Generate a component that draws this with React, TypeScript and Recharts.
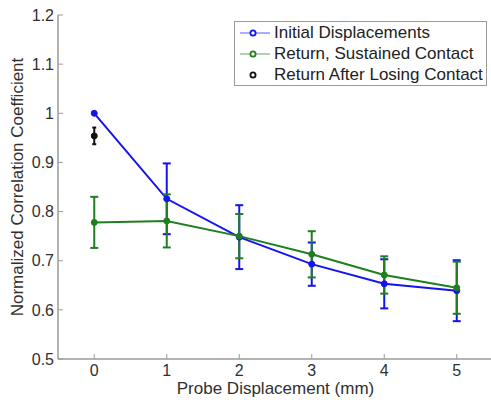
import React from "react";
import { LineChart, Line, XAxis, YAxis, ErrorBar, Legend, Label } from "recharts";

const xPositions = [0, 1, 2, 3, 4, 5];
const xTicks = [0, 1, 2, 3, 4, 5];
const yTicks = [0.5, 0.6, 0.7, 0.8, 0.9, 1.0, 1.1, 1.2];

const initialMean = [1.0, 0.826, 0.748, 0.693, 0.653, 0.639];
const initialErr = [0, 0.072, 0.065, 0.044, 0.05, 0.062];

const sustainedMean = [0.778, 0.781, 0.75, 0.713, 0.671, 0.645];
const sustainedErr = [0.052, 0.054, 0.045, 0.047, 0.038, 0.053];

const lostX = [0];
const lostMean = [0.954];
const lostErr = [0.017];

const seriesNames = ["Initial Displacements", "Return, Sustained Contact", "Return After Losing Contact"];
const BLUE = "#1414f0";
const GREEN = "#1f7f1f";
const BLACK = "#111111";
const seriesColors = [BLUE, GREEN, BLACK];
const seriesHasLine = [true, true, false];

const build = (xs: number[], ys: number[], es: number[]) =>
  xs.map((x, i) => ({ x, y: ys[i], err: es[i] }));

const initialData = build(xPositions, initialMean, initialErr);
const sustainedData = build(xPositions, sustainedMean, sustainedErr);
const lostData = build(lostX, lostMean, lostErr);

const FONT = "'Liberation Sans', Arial, sans-serif";
const AXIS = "#9a9a9a";
const TEXT = "#303030";

const fmt = (v: number) => (Math.round(v * 10) / 10).toString();

const LegendBox = () => (
  <div
    style={{
      border: `1.5px solid ${AXIS}`,
      background: "#fff",
      padding: "0 3px 0 5px",
      fontFamily: FONT,
      fontSize: 17,
      color: "#222",
    }}
  >
    {seriesNames.map((n, i) => (
      <div key={n} style={{ display: "flex", alignItems: "center", height: 21, whiteSpace: "nowrap" }}>
        <svg width={32} height={12} style={{ marginRight: 2 }}>
          {seriesHasLine[i] && (
            <line x1={0} y1={6} x2={30} y2={6} stroke={seriesColors[i]} strokeWidth={1} strokeOpacity={0.7} />
          )}
          <circle cx={13} cy={6} r={2.6} fill="#fff" stroke={seriesColors[i]} strokeWidth={1.8} />
        </svg>
        <span>{n}</span>
      </div>
    ))}
  </div>
);

export default function App() {
  return (
    <div style={{ position: "absolute", left: 0, top: 0, width: 491, height: 400, overflow: "hidden", background: "#fff" }}>
      <LineChart width={500} height={400} margin={{ top: 15, right: 7, bottom: 0, left: 0 }}>
        <XAxis
          type="number"
          dataKey="x"
          domain={[-0.5, 5.5]}
          allowDataOverflow
          ticks={xTicks}
          height={41}
          tickSize={-5}
          tickMargin={11}
          axisLine={{ stroke: AXIS, strokeWidth: 1.5 }}
          tickLine={{ stroke: AXIS }}
          tick={{ fill: TEXT, fontSize: 16, fontFamily: FONT }}
        >
          <Label
            value="Probe Displacement (mm)"
            position="insideBottom"
            offset={6}
            style={{ fill: TEXT, fontSize: 17, fontFamily: FONT }}
          />
        </XAxis>
        <XAxis
          xAxisId="top"
          orientation="top"
          type="number"
          dataKey="x"
          domain={[-0.5, 5.5]}
          allowDataOverflow
          ticks={xTicks}
          height={0}
          tickSize={-5}
          tick={false}
          axisLine={{ stroke: AXIS, strokeWidth: 1.5 }}
          tickLine={{ stroke: AXIS }}
        />
        <YAxis
          type="number"
          domain={[0.5, 1.2]}
          allowDataOverflow
          ticks={yTicks}
          width={58}
          tickSize={-5}
          tickMargin={9}
          tickFormatter={fmt}
          axisLine={{ stroke: AXIS, strokeWidth: 1.5 }}
          tickLine={{ stroke: AXIS }}
          tick={{ fill: TEXT, fontSize: 16, fontFamily: FONT }}
        >
          <Label
            value="Normalized Correlation Coefficient"
            angle={-90}
            position="insideLeft"
            offset={17}
            style={{ fill: TEXT, fontSize: 17, fontFamily: FONT, textAnchor: "middle" }}
          />
        </YAxis>
        <YAxis
          yAxisId="right"
          orientation="right"
          type="number"
          domain={[0.5, 1.2]}
          allowDataOverflow
          ticks={yTicks}
          width={0}
          tickSize={-5}
          tick={false}
          axisLine={{ stroke: AXIS, strokeWidth: 1.5 }}
          tickLine={{ stroke: AXIS }}
        />
        <Legend
          layout="horizontal"
          verticalAlign="middle"
          align="center"
          wrapperStyle={{ top: 21, left: 234, width: "auto", height: "auto" }}
          content={() => <LegendBox />}
        />
        <Line
          data={initialData}
          dataKey="y"
          name={seriesNames[0]}
          type="linear"
          stroke={BLUE}
          strokeWidth={2}
          dot={{ r: 3, fill: BLUE, stroke: BLUE, strokeWidth: 1 }}
          isAnimationActive={false}
        >
          <ErrorBar dataKey="err" direction="y" width={4} stroke={BLUE} strokeWidth={2} isAnimationActive={false} />
        </Line>
        <Line
          data={sustainedData}
          dataKey="y"
          name={seriesNames[1]}
          type="linear"
          stroke={GREEN}
          strokeWidth={2}
          dot={{ r: 3, fill: GREEN, stroke: GREEN, strokeWidth: 1 }}
          isAnimationActive={false}
        >
          <ErrorBar dataKey="err" direction="y" width={4} stroke={GREEN} strokeWidth={2} isAnimationActive={false} />
        </Line>
        <Line
          data={lostData}
          dataKey="y"
          name={seriesNames[2]}
          type="linear"
          stroke="none"
          strokeWidth={0}
          dot={{ r: 3, fill: BLACK, stroke: BLACK, strokeWidth: 1 }}
          isAnimationActive={false}
        >
          <ErrorBar dataKey="err" direction="y" width={2} stroke={BLACK} strokeWidth={2} isAnimationActive={false} />
        </Line>
      </LineChart>
    </div>
  );
}
